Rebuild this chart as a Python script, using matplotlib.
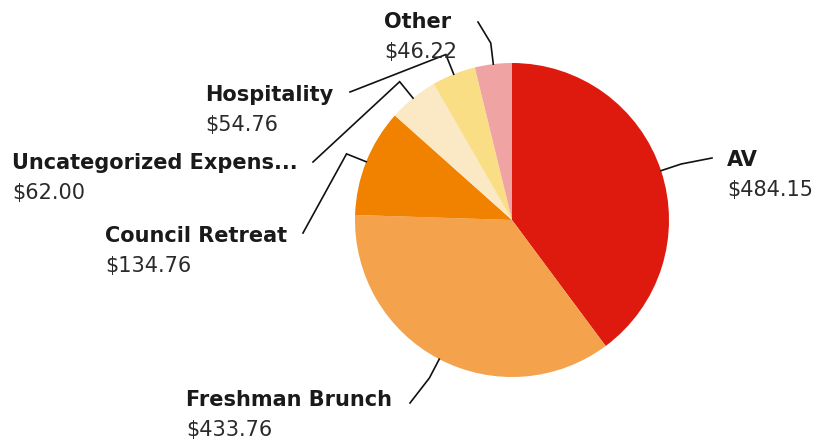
import numpy as np
import matplotlib.pyplot as plt

plt.rcParams['font.family'] = ['DejaVu Sans']

W, H = 823, 440

categories = ['AV', 'Freshman Brunch', 'Council Retreat', 'Uncategorized Expens...', 'Hospitality', 'Other']
amounts = [484.15, 433.76, 134.76, 62.00, 54.76, 46.22]
value_labels = ['$484.15', '$433.76', '$134.76', '$62.00', '$54.76', '$46.22']
colors = ['#DE1A0E', '#F4A24C', '#F08200', '#FBE8C4', '#FADE86', '#F0A3A3']

# label placement in pixels from top-left: text left x, name y, leader end x, leader end y
label_layout = [
    (727, 160, 712, 158),
    (186, 400, 410, 403),
    (105, 236, 303, 233),
    (12, 163, 313, 162),
    (205, 95, 350, 92),
    (384, 22, 478, 22),
]

cx, cy, R = 512, H - 220, 157

fig = plt.figure(figsize=(W / 100, H / 100), dpi=100)
ax = fig.add_axes([0, 0, 1, 1])
wedges, _ = ax.pie(amounts, colors=colors, startangle=90, counterclock=False,
                   center=(cx, cy), radius=R, wedgeprops=dict(linewidth=0))
ax.set_xlim(0, W)
ax.set_ylim(0, H)
ax.set_aspect('equal')
ax.axis('off')

for w, name, val, (tx, ty, ex, ey) in zip(wedges, categories, value_labels, label_layout):
    theta = np.deg2rad((w.theta1 + w.theta2) / 2)
    p0 = (cx + R * np.cos(theta), cy + R * np.sin(theta))
    p1 = (cx + 1.135 * R * np.cos(theta), cy + 1.135 * R * np.sin(theta))
    ax.plot([p0[0], p1[0], ex], [p0[1], p1[1], H - ey], color='#111111', lw=1.2,
            solid_joinstyle='miter')
    ax.text(tx, H - ty, name, fontsize=15, fontweight='bold', color='#1a1a1a',
            ha='left', va='center')
    ax.text(tx, H - ty - 30, val, fontsize=15, color='#2a2a2a', ha='left', va='center')

fig.savefig('out.png', dpi=100)
